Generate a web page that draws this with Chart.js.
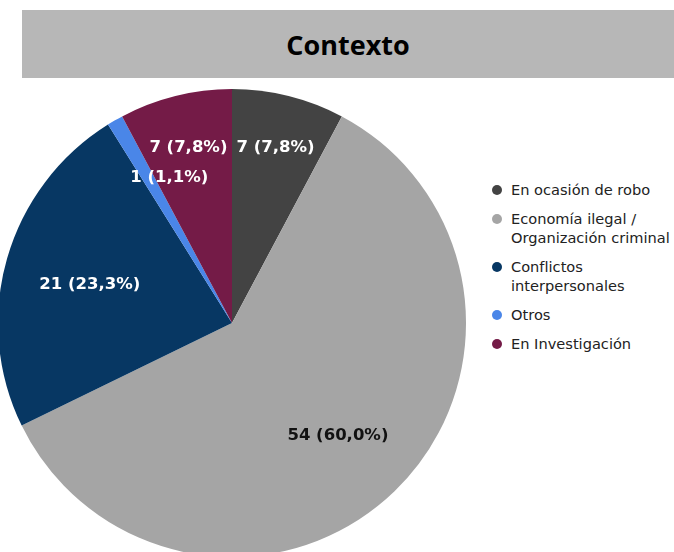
<!DOCTYPE html>
<html lang="es">

<head>
    <meta charset="UTF-8">
    <meta name="viewport" content="width=device-width, initial-scale=1.0">
    <title>Contexto</title>
    <script src="https://cdn.jsdelivr.net/npm/chart.js"></script>
    <style>
        html, body {
            margin: 0;
            padding: 0;
            width: 674px;
            height: 552px;
            overflow: hidden;
            background: #fff;
            position: relative;
        }

        .titulo {
            position: absolute;
            left: 22px;
            top: 10px;
            width: 652px;
            height: 68px;
            background: #b7b7b7;
            display: flex;
            align-items: center;
            justify-content: center;
            font-family: "Open Sans", sans-serif;
            font-weight: 700;
            font-size: 27px;
            color: #000;
        }

        .pastel {
            position: absolute;
            left: -2px;
            top: 89px;
            width: 468px;
            height: 468px;
        }

        #leyenda {
            position: absolute;
            left: 492px;
            top: 180px;
            width: 182px;
            font-family: "DejaVu Sans", sans-serif;
            font-size: 14.6px;
            line-height: 19px;
            color: #222;
        }

        .item {
            display: flex;
            align-items: flex-start;
            margin-bottom: 10px;
        }

        .punto {
            width: 10px;
            height: 10px;
            border-radius: 50%;
            margin-top: 4.5px;
            margin-right: 9px;
            flex: none;
        }
    </style>
</head>

<body>

    <div class="titulo">Contexto</div>

    <div class="pastel">
        <canvas id="graficoPastel" width="468" height="468"></canvas>
    </div>

    <div id="leyenda"></div>

    <script>
        var categorias = ['En ocasión de robo', 'Economía ilegal / Organización criminal', 'Conflictos interpersonales', 'Otros', 'En Investigación'];
        var valores = [7, 54, 21, 1, 7];
        var colores = ['#434343', '#a5a5a5', '#073763', '#4a86e8', '#741b47'];
        var coloresTexto = ['#ffffff', '#111111', '#ffffff', '#ffffff', '#ffffff'];

        // donde va cada etiqueta dentro de su porción
        var radioEtiqueta = [0.77, 0.66, 0.63, 0.675, 0.77];
        var giroEtiqueta = [0, 0.7, -0.8, 6.6, 0];

        var total = valores.reduce(function (a, b) { return a + b; }, 0);

        function textoEtiqueta(v) {
            var pct = (v / total * 100).toFixed(1).replace('.', ',');
            return v + ' (' + pct + '%)';
        }

        var etiquetasPlugin = {
            id: 'etiquetas',
            afterDatasetsDraw: function (chart) {
                var ctx = chart.ctx;
                var meta = chart.getDatasetMeta(0);
                ctx.save();
                ctx.font = 'bold 16.5px "DejaVu Sans"';
                ctx.textAlign = 'center';
                ctx.textBaseline = 'middle';
                meta.data.forEach(function (arco, i) {
                    var p = arco.getProps(['x', 'y', 'startAngle', 'endAngle', 'outerRadius'], true);
                    var medio = (p.startAngle + p.endAngle) / 2 + giroEtiqueta[i] * Math.PI / 180;
                    var r = p.outerRadius * radioEtiqueta[i];
                    ctx.fillStyle = coloresTexto[i];
                    ctx.fillText(textoEtiqueta(valores[i]), p.x + Math.cos(medio) * r, p.y + Math.sin(medio) * r);
                });
                ctx.restore();
            }
        };

        var contexto = document.getElementById('graficoPastel').getContext('2d');
        var graficoPastel = new Chart(contexto, {
            type: 'pie',
            data: {
                labels: categorias,
                datasets: [{
                    data: valores,
                    backgroundColor: colores,
                    borderWidth: 0
                }]
            },
            options: {
                responsive: false,
                animation: false,
                devicePixelRatio: 1,
                layout: { padding: 0 },
                plugins: {
                    legend: { display: false },
                    tooltip: { enabled: false }
                }
            },
            plugins: [etiquetasPlugin]
        });

        var leyenda = document.getElementById('leyenda');
        categorias.forEach(function (nombre, i) {
            var item = document.createElement('div');
            item.className = 'item';
            var punto = document.createElement('span');
            punto.className = 'punto';
            punto.style.background = colores[i];
            var texto = document.createElement('span');
            texto.textContent = nombre;
            item.appendChild(punto);
            item.appendChild(texto);
            leyenda.appendChild(item);
        });
    </script>

</body>

</html>
